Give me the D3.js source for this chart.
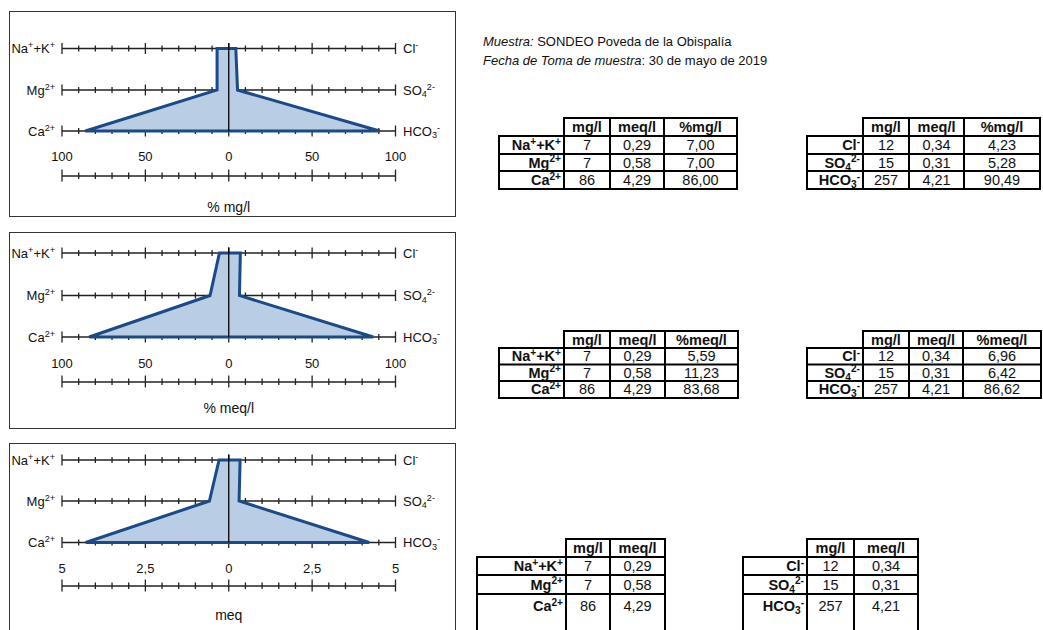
<!DOCTYPE html>
<html>
<head>
<meta charset="utf-8">
<script src="https://cdn.jsdelivr.net/npm/d3@7"></script>
<style>
  body { margin: 0; background: #fff; }
  svg { font-family: "Liberation Sans", Arial, sans-serif; }
</style>
</head>
<body>
<svg id="chart" width="1043" height="630"></svg>
<script>
// ---- data ----
var sampleName = "SONDEO Poveda de la Obispalía";
var sampleDate = "30 de mayo de 2019";

var cationMg = [7, 7, 86];
var cationMeq = [0.29, 0.58, 4.29];
var cationPctMg = [7.00, 7.00, 86.00];
var cationPctMeq = [5.59, 11.23, 83.68];

var anionMg = [12, 15, 257];
var anionMeq = [0.34, 0.31, 4.21];
var anionPctMg = [4.23, 5.28, 90.49];
var anionPctMeq = [6.96, 6.42, 86.62];

var pctTickLabels = ["100", "50", "0", "50", "100"];
var meqTickLabels = ["5", "2,5", "0", "2,5", "5"];

// label pieces: [text, "sup"|"sub"|undefined]
var cationLabels = [[["Na"], ["+", "sup"], ["+"], ["K"], ["+", "sup"]], [["Mg"], ["2+", "sup"]], [["Ca"], ["2+", "sup"]]];
var anionLabels = [[["Cl"], ["-", "sup"]], [["SO"], ["4", "sub"], ["2-", "sup"]], [["HCO"], ["3", "sub"], ["-", "sup"]]];

var svg = d3.select("#chart");

var loc = d3.formatLocale({decimal: ",", thousands: ".", grouping: [3], currency: ["", ""]});
var f2 = loc.format(".2f");
var f0 = loc.format("d");

// write text made of normal / sup / sub pieces
function rich(text, parts, fs) {
  var shift = 0;
  parts.forEach(function(p) {
    var kind = p[1];
    var target = kind == "sup" ? -fs * 0.36 : kind == "sub" ? fs * 0.22 : 0;
    text.append("tspan")
      .attr("dy", target - shift)
      .attr("font-size", kind ? fs * 0.7 : fs)
      .text(p[0]);
    shift = target;
  });
}

// ---- Stiff diagrams ----
var panels = [
  {box: [11, 216], rows: [48.5, 90, 131], tickY: 156, axisY: 176, titleY: 207,
   max: 100, left: cationPctMg, right: anionPctMg, ticks: pctTickLabels, title: "% mg/l"},
  {box: [232, 428], rows: [253, 295.5, 337], tickY: 363, axisY: 382, titleY: 408,
   max: 100, left: cationPctMeq, right: anionPctMeq, ticks: pctTickLabels, title: "% meq/l"},
  {box: [443, 660], rows: [460, 501, 542.5], tickY: 568, axisY: 586, titleY: 615,
   max: 5, left: cationMeq, right: anionMeq, ticks: meqTickLabels, title: "meq"}
];

var axisColor = "#222";

panels.forEach(function(p) {
  var g = svg.append("g");
  var x = d3.scaleLinear().domain([-p.max, p.max]).range([62, 395.5]);

  g.append("rect")
    .attr("x", 9.5).attr("y", p.box[0] + 0.5)
    .attr("width", 446).attr("height", p.box[1] - p.box[0])
    .attr("fill", "#fff").attr("stroke", "#333").attr("stroke-width", 1);

  var minor = d3.range(-10, 11).map(function(i) { return i * p.max / 10; });

  function drawAxis(y, up, down) {
    g.append("line")
      .attr("x1", x(-p.max)).attr("x2", x(p.max))
      .attr("y1", y).attr("y2", y)
      .attr("stroke", axisColor).attr("stroke-width", 1.4);
    g.selectAll(null).data(minor).enter().append("line")
      .attr("x1", function(d) { return x(d); })
      .attr("x2", function(d) { return x(d); })
      .attr("y1", function(d, i) { return y - (i % 5 == 0 ? up : up * 0.55); })
      .attr("y2", function(d, i) { return y + (i % 5 == 0 ? down : down * 0.55); })
      .attr("stroke", axisColor).attr("stroke-width", 1.3);
  }

  p.rows.forEach(function(y) { drawAxis(y, 5.5, 5.5); });
  drawAxis(p.axisY, 6.5, 5.5);

  // tick labels above the bottom axis
  g.selectAll(null).data(p.ticks).enter().append("text")
    .attr("x", function(d, i) { return x(-p.max + i * p.max / 2); })
    .attr("y", p.tickY + 4.5)
    .attr("text-anchor", "middle")
    .attr("font-size", 13)
    .attr("fill", "#111")
    .text(function(d) { return d; });

  g.append("text")
    .attr("x", x(0)).attr("y", p.titleY + 5)
    .attr("text-anchor", "middle")
    .attr("font-size", 14)
    .attr("fill", "#111")
    .text(p.title);

  // row labels
  p.rows.forEach(function(y, i) {
    var tl = g.append("text").attr("x", 55).attr("y", y + 4.5)
      .attr("text-anchor", "end").attr("font-size", 13).attr("fill", "#111");
    rich(tl, cationLabels[i], 13);
    var tr = g.append("text").attr("x", 403).attr("y", y + 4.5)
      .attr("text-anchor", "start").attr("font-size", 13).attr("fill", "#111");
    rich(tr, anionLabels[i], 13);
  });

  // polygon
  var pts = [];
  p.rows.forEach(function(y, i) { pts.push([x(p.right[i]), y]); });
  for (var i = p.rows.length - 1; i >= 0; i--) pts.push([x(-p.left[i]), p.rows[i]]);
  g.append("path")
    .attr("d", d3.line()(pts) + "Z")
    .attr("fill", "#b9cde5")
    .attr("stroke", "#1b4a87")
    .attr("stroke-width", 3)
    .attr("stroke-linejoin", "miter");

  g.append("line")
    .attr("x1", x(0)).attr("x2", x(0))
    .attr("y1", p.rows[0] - 5.5).attr("y2", p.rows[2])
    .attr("stroke", "#000").attr("stroke-width", 1.3);
});

// ---- sample info ----
var info = svg.append("g").attr("font-size", 13).attr("fill", "#111");
var t1 = info.append("text").attr("x", 483).attr("y", 46);
t1.append("tspan").attr("font-style", "italic").text("Muestra:");
t1.append("tspan").text(" " + sampleName);
var t2 = info.append("text").attr("x", 483).attr("y", 65);
t2.append("tspan").attr("font-style", "italic").text("Fecha de Toma de muestra");
t2.append("tspan").text(": " + sampleDate);

// ---- tables ----
var fsT = 14.5;
function drawTable(xs, ys, centers, headers, labels, columns) {
  var g = svg.append("g").attr("fill", "#111");
  var n = xs.length - 1;
  var lw = 2;
  var last = ys.length - 1;
  g.append("rect").attr("x", xs[1]).attr("y", ys[0])
    .attr("width", xs[n] - xs[1]).attr("height", ys[1] - ys[0])
    .attr("fill", "none").attr("stroke", "#000").attr("stroke-width", lw);
  g.append("rect").attr("x", xs[0]).attr("y", ys[1])
    .attr("width", xs[n] - xs[0]).attr("height", ys[last] - ys[1])
    .attr("fill", "none").attr("stroke", "#000").attr("stroke-width", lw);
  for (var c = 1; c < n; c++) {
    g.append("line").attr("x1", xs[c]).attr("x2", xs[c])
      .attr("y1", c == 1 ? ys[1] : ys[0]).attr("y2", ys[last])
      .attr("stroke", "#000").attr("stroke-width", lw);
  }
  for (var r = 2; r < last; r++) {
    g.append("line").attr("x1", xs[0]).attr("x2", xs[n])
      .attr("y1", ys[r]).attr("y2", ys[r])
      .attr("stroke", "#000").attr("stroke-width", lw);
  }
  headers.forEach(function(h, i) {
    g.append("text").attr("x", (xs[i + 1] + xs[i + 2]) / 2).attr("y", centers[0] + 5)
      .attr("text-anchor", "middle").attr("font-size", fsT).attr("font-weight", "bold")
      .text(h);
  });
  labels.forEach(function(lab, r) {
    var t = g.append("text").attr("x", xs[1] - 3).attr("y", centers[r + 1] + 5)
      .attr("text-anchor", "end").attr("font-size", fsT).attr("font-weight", "bold");
    rich(t, lab, fsT);
    columns.forEach(function(col, c) {
      g.append("text").attr("x", (xs[c + 1] + xs[c + 2]) / 2).attr("y", centers[r + 1] + 5)
        .attr("text-anchor", "middle").attr("font-size", fsT)
        .text(col.fmt(col.values[r]));
    });
  });
}

var topRows = [118, 136, 154, 171, 189];
var topCenters = [127, 145, 162.5, 180];
drawTable([499, 564, 610, 664, 737], topRows, topCenters, ["mg/l", "meq/l", "%mg/l"], cationLabels,
  [{values: cationMg, fmt: f0}, {values: cationMeq, fmt: f2}, {values: cationPctMg, fmt: f2}]);
drawTable([807, 863, 909, 964, 1040], topRows, topCenters, ["mg/l", "meq/l", "%mg/l"], anionLabels,
  [{values: anionMg, fmt: f0}, {values: anionMeq, fmt: f2}, {values: anionPctMg, fmt: f2}]);

var midRows = [331, 348, 364.5, 381, 398];
var midCenters = [340, 356, 372.5, 389];
drawTable([499, 564, 610, 665, 738], midRows, midCenters, ["mg/l", "meq/l", "%meq/l"], cationLabels,
  [{values: cationMg, fmt: f0}, {values: cationMeq, fmt: f2}, {values: cationPctMeq, fmt: f2}]);
drawTable([807, 863, 909, 963, 1041], midRows, midCenters, ["mg/l", "meq/l", "%meq/l"], anionLabels,
  [{values: anionMg, fmt: f0}, {values: anionMeq, fmt: f2}, {values: anionPctMeq, fmt: f2}]);

var botRows = [539, 557, 575, 594, 645];
var botCenters = [548, 566, 584.5, 606];
drawTable([477, 566, 610, 665], botRows, botCenters, ["mg/l", "meq/l"], cationLabels,
  [{values: cationMg, fmt: f0}, {values: cationMeq, fmt: f2}]);
drawTable([743, 807, 854, 918], botRows, botCenters, ["mg/l", "meq/l"], anionLabels,
  [{values: anionMg, fmt: f0}, {values: anionMeq, fmt: f2}]);
</script>
</body>
</html>
